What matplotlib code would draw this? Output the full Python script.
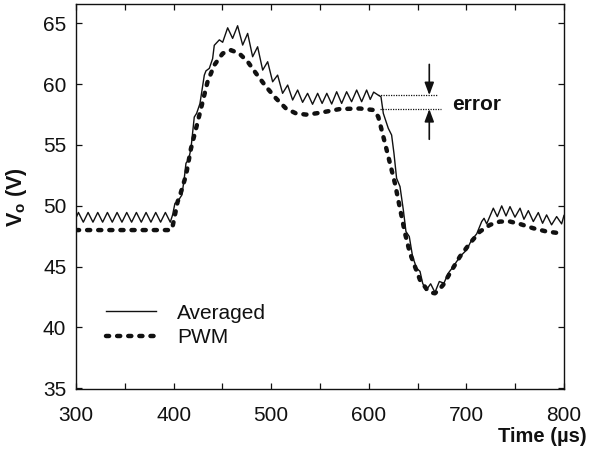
import matplotlib
matplotlib.use("Agg")
import matplotlib.pyplot as plt
from matplotlib.ticker import MultipleLocator

plt.rcParams['font.family'] = ['Liberation Sans', 'DejaVu Sans']

# ---- data (time in microseconds, voltage in volts) ----
t_avg = [300.0, 302.5, 307.5, 312.4, 317.4, 322.3, 327.3, 332.2, 337.2, 342.1,
         347.1, 352.0, 357.0, 361.9, 366.9, 371.8, 376.8, 381.7, 386.7, 391.6,
         396.6, 399.0, 401.4, 404.2, 408.6, 411.0, 412.7, 415.4, 417.8, 421.2,
         423.6, 427.0, 431.5, 433.2, 436.6, 440.0, 441.7, 446.9, 450.3, 455.4,
         460.5, 465.6, 470.8, 475.9, 481.0, 486.1, 491.3, 496.4, 501.5, 506.6,
         511.7, 516.9, 522.0, 527.1, 532.2, 537.3, 542.4, 547.6, 552.2, 557.0,
         562.0, 567.1, 572.2, 577.3, 582.4, 587.6, 592.7, 597.8, 601.5, 605.0,
         609.7, 612.5, 614.9, 620.0, 623.4, 625.8, 628.5, 632.0, 635.4, 638.1,
         641.5, 644.9, 649.0, 652.5, 655.2, 658.6, 663.4, 667.8, 672.3, 677.0,
         681.5, 686.6, 690.0, 695.2, 700.3, 705.4, 710.6, 715.7, 718.1, 720.8,
         727.6, 731.7, 736.2, 740.6, 744.7, 749.8, 755.0, 759.0, 763.5, 768.6,
         773.7, 778.1, 782.2, 787.3, 792.5, 797.6, 800.0]
v_avg = [49.00, 49.45, 48.65, 49.45, 48.65, 49.45, 48.65, 49.45, 48.65, 49.45,
         48.65, 49.45, 48.65, 49.45, 48.65, 49.45, 48.65, 49.45, 48.65, 49.45,
         48.65, 49.25, 50.20, 50.35, 50.90, 52.30, 53.50, 53.80, 54.70, 57.30,
         57.60, 58.40, 60.75, 61.10, 61.30, 62.10, 63.20, 63.65, 63.45, 64.64,
         63.77, 64.81, 63.22, 64.18, 62.26, 63.08, 61.16, 61.85, 60.20, 60.75,
         59.25, 59.93, 58.70, 59.52, 58.51, 59.25, 58.35, 59.25, 58.42, 59.25,
         58.37, 59.38, 58.42, 59.38, 58.56, 59.52, 58.56, 59.52, 58.75, 59.35,
         59.10, 58.97, 57.60, 56.37, 55.82, 54.32, 52.26, 51.58, 49.66, 47.88,
         47.47, 45.82, 44.87, 44.60, 43.63, 43.03, 43.58, 42.87, 43.77, 43.63,
         44.46, 45.00, 45.41, 45.96, 46.37, 47.19, 47.69, 48.70, 48.97, 48.51,
         49.80, 49.11, 49.99, 49.16, 49.93, 49.06, 49.80, 48.89, 49.60, 48.70,
         49.44, 48.56, 49.25, 48.43, 49.11, 48.51, 49.20]

t_pwm = [300.0, 397.0, 399.0, 400.7, 404.2, 406.0, 412.7, 417.8, 424.7, 429.8,
         434.8, 441.7, 450.3, 458.8, 467.3, 476.0, 484.4, 494.7, 504.9, 515.2,
         525.4, 535.7, 545.9, 556.0, 570.5, 591.0, 604.6, 609.7, 613.2, 618.3,
         621.7, 626.8, 630.2, 633.7, 637.1, 642.2, 647.3, 652.5, 659.3, 664.0,
         667.8, 672.0, 676.3, 683.2, 693.4, 703.7, 713.9, 724.2, 734.4, 744.7,
         754.9, 768.5, 782.2, 795.9, 800.0]
v_pwm = [48.00, 48.00, 48.30, 48.97, 50.35, 50.70, 52.50, 54.70, 56.90, 58.56,
         60.20, 61.57, 62.53, 62.80, 62.53, 61.85, 60.90, 59.80, 58.84, 58.00,
         57.60, 57.50, 57.60, 57.74, 57.96, 58.00, 57.88, 57.33, 56.23, 54.60,
         53.50, 51.85, 50.48, 49.10, 47.74, 46.10, 45.00, 43.90, 43.14, 42.85,
         42.80, 43.10, 43.50, 44.46, 45.82, 46.92, 47.88, 48.43, 48.70, 48.70,
         48.50, 48.15, 47.88, 47.74, 47.70]

series_labels = ["Averaged", "PWM"]
x_ticks = [300, 400, 500, 600, 700, 800]
y_ticks = [35, 40, 45, 50, 55, 60, 65]

# error annotation levels
err_upper = 59.1
err_lower = 57.96

fig = plt.figure(figsize=(5.89, 4.53), dpi=100)
ax = fig.add_axes([0.129, 0.1406, 0.8285, 0.8506])

ink = '#111111'
ax.plot(t_avg, v_avg, color=ink, lw=1.0, label=series_labels[0])
ax.plot(t_pwm, v_pwm, color=ink, lw=3.2, linestyle=(0, (0.7, 1.8)),
        dash_capstyle='round', label=series_labels[1])

# error markers
ax.plot([609.0, 671.0], [err_upper, err_upper], color=ink, lw=0.9, linestyle=(0, (1, 1)))
ax.plot([612.0, 673.5], [err_lower, err_lower], color=ink, lw=0.9, linestyle=(0, (1, 1)))
arrow = dict(arrowstyle='-|>,head_length=0.75,head_width=0.28', color=ink, lw=1.2,
             shrinkA=0, shrinkB=0, mutation_scale=10)
ax.annotate('', xy=(662, err_upper), xytext=(662, 61.63), arrowprops=arrow)
ax.annotate('', xy=(662, err_lower), xytext=(662, 55.47), arrowprops=arrow)
ax.text(685.5, 58.29, 'error', fontsize=15, fontweight='bold', ha='left', va='center',
        color=ink)

ax.set_xlim(300, 800)
ax.set_ylim(34.9, 66.6)
ax.set_xticks(x_ticks)
ax.set_yticks(y_ticks)
ax.xaxis.set_minor_locator(MultipleLocator(50))
ax.tick_params(axis='both', which='both', direction='in', top=True, right=True,
               length=4, width=0.9, colors=ink, labelsize=15)
ax.tick_params(axis='x', pad=12)
ax.tick_params(axis='y', pad=7)
for sp in ax.spines.values():
    sp.set_linewidth(1.0)
    sp.set_color(ink)

ax.set_ylabel(r'V$_\mathregular{o}$ (V)', fontsize=15.5, fontweight='bold', color=ink)
ax.yaxis.set_label_coords(-0.097, 0.5)
fig.text(587 / 589, 1 - 436.7 / 453, 'Time (µs)', fontsize=14.5, fontweight='bold',
         ha='right', va='center', color=ink)

leg = ax.legend(loc='center left', bbox_to_anchor=(0.0615, 0.1656), frameon=False,
                fontsize=15, handlelength=2.4, handletextpad=1.0, labelspacing=0.28,
                borderpad=0, borderaxespad=0)
for txt in leg.get_texts():
    txt.set_color(ink)

fig.savefig('out.png', dpi=100)
